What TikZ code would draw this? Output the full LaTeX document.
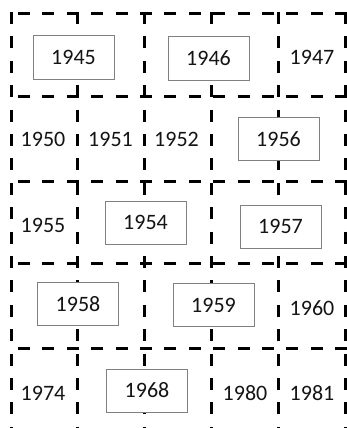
\documentclass[tikz,border=0pt]{standalone}
\usepackage{fontspec}
\setmainfont{Carlito}
\definecolor{boxgray}{RGB}{128,128,128}
\definecolor{txt}{RGB}{20,20,20}
\begin{document}
\begin{tikzpicture}[x=1pt,y=-1pt,
  gridline/.style={line width=3pt, black, dash pattern=on 12pt off 12.4pt},
  hgrid/.style={gridline, dash phase=15.9pt},
  vgrid/.style={gridline, dash phase=0pt},
  yearbox/.style={draw=boxgray, fill=white, line width=1pt, minimum width=81pt, minimum height=43pt, inner sep=0pt, text=txt, font=\fontsize{22}{25}\selectfont},
  yeartext/.style={inner sep=0pt, text=txt, font=\fontsize{22}{25}\selectfont}]
\useasboundingbox (0,0) rectangle (346,428);
% horizontal grid lines
\foreach \yy in {13.5,96,181,263,348,429}
  \draw[hgrid] (9.5,\yy) -- (346.5,\yy);
% vertical grid lines
\foreach \xx in {11,77,144,211,278,345}
  \draw[vgrid] (\xx,12) -- (\xx,430.5);
% boxed years
\node[yearbox] (y1945) at (73.5,57.5) {1945};
\node[yearbox] (y1946) at (208.5,58.5) {1946};
\node[yearbox] (y1956) at (278.5,139) {1956};
\node[yearbox] (y1954) at (145.5,222.5) {1954};
\node[yearbox] (y1957) at (280.5,226.5) {1957};
\node[yearbox] (y1958) at (78,304) {1958};
\node[yearbox] (y1959) at (213.5,305) {1959};
\node[yearbox] (y1968) at (147,390.5) {1968};
% plain years
\node[yeartext] (y1947) at (312,57) {1947};
\node[yeartext] (y1950) at (43,139.5) {1950};
\node[yeartext] (y1951) at (110.5,139.5) {1951};
\node[yeartext] (y1952) at (176.5,139.5) {1952};
\node[yeartext] (y1955) at (43,225) {1955};
\node[yeartext] (y1960) at (312,308) {1960};
\node[yeartext] (y1974) at (43,393.5) {1974};
\node[yeartext] (y1980) at (245,393.5) {1980};
\node[yeartext] (y1981) at (312,393.5) {1981};
\end{tikzpicture}
\end{document}
